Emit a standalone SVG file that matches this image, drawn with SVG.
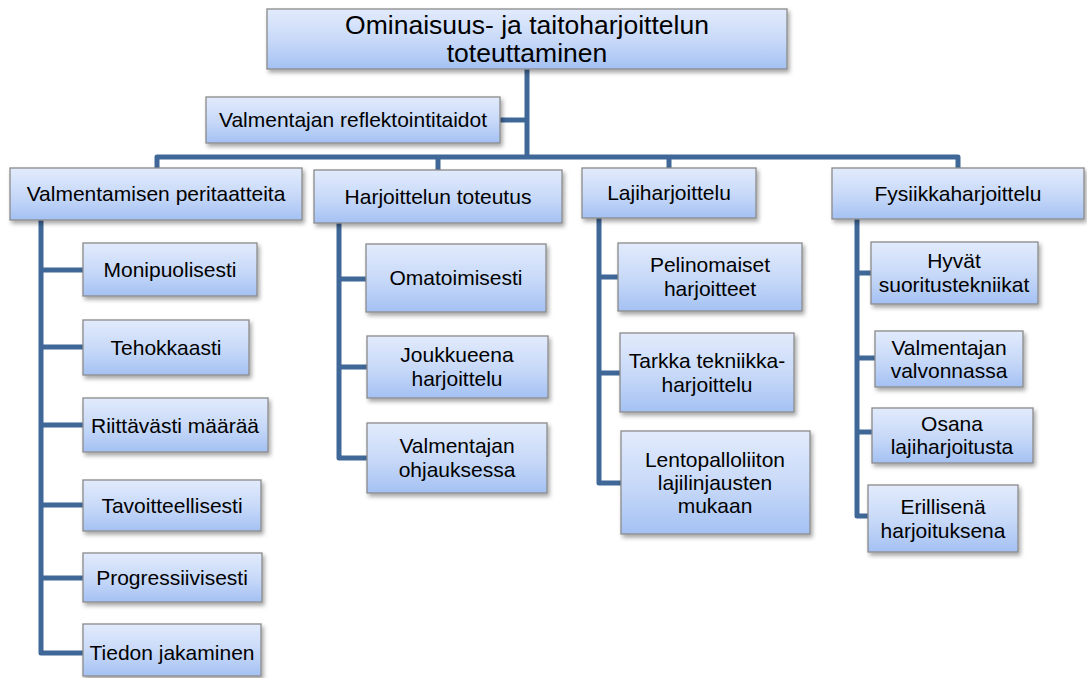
<svg xmlns="http://www.w3.org/2000/svg" width="1087" height="678" viewBox="0 0 1087 678">
  <defs>
    <linearGradient id="boxFill" x1="0" y1="0" x2="0" y2="1">
      <stop offset="0" stop-color="#e2ebfc"/>
      <stop offset="0.55" stop-color="#c6d8f8"/>
      <stop offset="1" stop-color="#a4c1f3"/>
    </linearGradient>
    <filter id="shadow" x="-10%" y="-20%" width="125%" height="150%">
      <feDropShadow dx="2" dy="3" stdDeviation="2" flood-color="#000" flood-opacity="0.35"/>
    </filter>
  </defs>
  <style>
    .box { fill: url(#boxFill); stroke: #8a8a8a; stroke-width: 1.3; filter: url(#shadow); }
    .lbl { font-family: "Liberation Sans", Arial, sans-serif; font-size: 21px; fill: #000; text-anchor: middle; }
    .title { font-size: 26.5px; }
    .link { fill: none; stroke: #3f6797; stroke-width: 5; stroke-linejoin: round; stroke-linecap: butt; }
  </style>
  <rect width="1087" height="678" fill="#fff"/>

  <!-- connectors -->
  <g id="connectors">
    <path class="link" d="M527 69 V157"/>
    <path class="link" d="M500 120 H527"/>
    <path class="link" d="M157 170 V157 H958 V170"/>
    <path class="link" d="M438 157 V171"/>
    <path class="link" d="M669 157 V169"/>
    <!-- column 1 -->
    <path class="link" d="M41 220 V653 H84"/>
    <path class="link" d="M41 270 H84 M41 347 H84 M41 425 H84 M41 505 H84 M41 578 H84"/>
    <!-- column 2 -->
    <path class="link" d="M339 223 V458 H367"/>
    <path class="link" d="M339 279 H367 M339 367 H367"/>
    <!-- column 3 -->
    <path class="link" d="M599 218 V483 H621"/>
    <path class="link" d="M599 277 H619 M599 373 H620"/>
    <!-- column 4 -->
    <path class="link" d="M857 219 V516 H869"/>
    <path class="link" d="M857 273 H872 M857 358 H876 M857 432 H873"/>
  </g>

  <!-- root -->
  <g id="root">
    <rect class="box" x="267" y="9" width="520" height="60"/>
    <text class="lbl title" x="527" y="34">Ominaisuus- ja taitoharjoittelun</text>
    <text class="lbl title" x="527" y="62">toteuttaminen</text>
  </g>

  <g id="reflect">
    <rect class="box" x="206" y="97" width="294" height="46"/>
    <text class="lbl" x="353" y="127">Valmentajan reflektointitaidot</text>
  </g>

  <!-- second level -->
  <g id="principles">
    <rect class="box" x="10" y="168" width="292" height="52"/>
    <text class="lbl" x="156" y="201">Valmentamisen peritaatteita</text>
  </g>
  <g id="execution">
    <rect class="box" x="314" y="170" width="248" height="53"/>
    <text class="lbl" x="438" y="204">Harjoittelun toteutus</text>
  </g>
  <g id="sport">
    <rect class="box" x="582" y="168" width="174" height="50"/>
    <text class="lbl" x="669" y="200">Lajiharjoittelu</text>
  </g>
  <g id="physical">
    <rect class="box" x="832" y="168" width="252" height="51"/>
    <text class="lbl" x="958" y="201">Fysiikkaharjoittelu</text>
  </g>

  <!-- column 1 children -->
  <g id="p1">
    <rect class="box" x="83" y="243" width="174" height="53"/>
    <text class="lbl" x="170" y="277">Monipuolisesti</text>
  </g>
  <g id="p2">
    <rect class="box" x="83" y="320" width="166" height="55"/>
    <text class="lbl" x="166" y="355">Tehokkaasti</text>
  </g>
  <g id="p3">
    <rect class="box" x="83" y="398" width="185" height="54"/>
    <text class="lbl" x="175" y="433">Riittävästi määrää</text>
  </g>
  <g id="p4">
    <rect class="box" x="83" y="480" width="178" height="51"/>
    <text class="lbl" x="172" y="513">Tavoitteellisesti</text>
  </g>
  <g id="p5">
    <rect class="box" x="83" y="553" width="179" height="49"/>
    <text class="lbl" x="172" y="585">Progressiivisesti</text>
  </g>
  <g id="p6">
    <rect class="box" x="83" y="624" width="178" height="52"/>
    <text class="lbl" x="172" y="660">Tiedon jakaminen</text>
  </g>

  <!-- column 2 children -->
  <g id="e1">
    <rect class="box" x="366" y="244" width="180" height="68"/>
    <text class="lbl" x="456" y="285">Omatoimisesti</text>
  </g>
  <g id="e2">
    <rect class="box" x="367" y="336" width="181" height="62"/>
    <text class="lbl" x="457" y="362">Joukkueena</text>
    <text class="lbl" x="457" y="386">harjoittelu</text>
  </g>
  <g id="e3">
    <rect class="box" x="367" y="423" width="180" height="70"/>
    <text class="lbl" x="457" y="453">Valmentajan</text>
    <text class="lbl" x="457" y="477">ohjauksessa</text>
  </g>

  <!-- column 3 children -->
  <g id="s1">
    <rect class="box" x="618" y="243" width="184" height="68"/>
    <text class="lbl" x="710" y="272">Pelinomaiset</text>
    <text class="lbl" x="710" y="296">harjoitteet</text>
  </g>
  <g id="s2">
    <rect class="box" x="620" y="333" width="174" height="79"/>
    <text class="lbl" x="707" y="368">Tarkka tekniikka-</text>
    <text class="lbl" x="707" y="392">harjoittelu</text>
  </g>
  <g id="s3">
    <rect class="box" x="621" y="431" width="189" height="103"/>
    <text class="lbl" x="715" y="467">Lentopalloliiton</text>
    <text class="lbl" x="715" y="490">lajilinjausten</text>
    <text class="lbl" x="715" y="513">mukaan</text>
  </g>

  <!-- column 4 children -->
  <g id="f1">
    <rect class="box" x="871" y="242" width="167" height="62"/>
    <text class="lbl" x="954" y="268">Hyvät</text>
    <text class="lbl" x="954" y="292">suoritustekniikat</text>
  </g>
  <g id="f2">
    <rect class="box" x="875" y="331" width="148" height="56"/>
    <text class="lbl" x="949" y="355">Valmentajan</text>
    <text class="lbl" x="949" y="378">valvonnassa</text>
  </g>
  <g id="f3">
    <rect class="box" x="872" y="408" width="161" height="55"/>
    <text class="lbl" x="952" y="431">Osana</text>
    <text class="lbl" x="952" y="454">lajiharjoitusta</text>
  </g>
  <g id="f4">
    <rect class="box" x="868" y="485" width="150" height="67"/>
    <text class="lbl" x="943" y="514">Erillisenä</text>
    <text class="lbl" x="943" y="538">harjoituksena</text>
  </g>
</svg>
